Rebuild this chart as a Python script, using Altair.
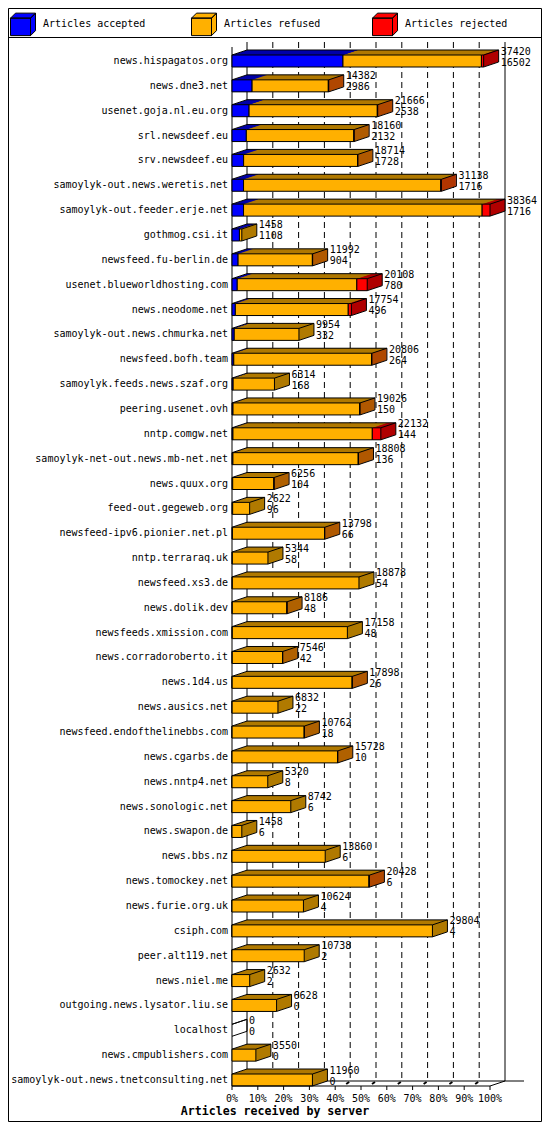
import pandas as pd
import altair as alt

servers = [
    "news.hispagatos.org", "news.dne3.net", "usenet.goja.nl.eu.org",
    "srl.newsdeef.eu", "srv.newsdeef.eu", "samoylyk-out.news.weretis.net",
    "samoylyk-out.feeder.erje.net", "gothmog.csi.it", "newsfeed.fu-berlin.de",
    "usenet.blueworldhosting.com", "news.neodome.net",
    "samoylyk-out.news.chmurka.net", "newsfeed.bofh.team",
    "samoylyk.feeds.news.szaf.org", "peering.usenet.ovh", "nntp.comgw.net",
    "samoylyk-net-out.news.mb-net.net", "news.quux.org", "feed-out.gegeweb.org",
    "newsfeed-ipv6.pionier.net.pl", "nntp.terraraq.uk", "newsfeed.xs3.de",
    "news.dolik.dev", "newsfeeds.xmission.com", "news.corradoroberto.it",
    "news.1d4.us", "news.ausics.net", "newsfeed.endofthelinebbs.com",
    "news.cgarbs.de", "news.nntp4.net", "news.sonologic.net", "news.swapon.de",
    "news.bbs.nz", "news.tomockey.net", "news.furie.org.uk", "csiph.com",
    "peer.alt119.net", "news.niel.me", "outgoing.news.lysator.liu.se",
    "localhost", "news.cmpublishers.com",
    "samoylyk-out.news.tnetconsulting.net",
]
offered = [
    37420, 14382, 21666, 18160, 18714, 31138, 38364, 1458, 11992, 20108,
    17754, 9954, 20806, 6314, 19026, 22132, 18808, 6256, 2622, 13798,
    5344, 18878, 8186, 17158, 7546, 17898, 6832, 10762, 15728, 5320,
    8742, 1458, 13860, 20428, 10624, 29804, 10738, 2632, 6628, 0,
    3550, 11960,
]
accepted = [
    16502, 2986, 2538, 2132, 1728, 1716, 1716, 1108, 904, 780,
    496, 332, 264, 168, 150, 144, 136, 104, 96, 66,
    58, 54, 48, 48, 42, 26, 22, 18, 10, 8,
    6, 6, 6, 6, 4, 4, 2, 2, 0, 0,
    0, 0,
]
# estimated from the red slices
rejected = [
    330, 60, 60, 40, 40, 100, 1170, 0, 40, 1545,
    470, 0, 60, 0, 40, 1270, 40, 30, 0, 40,
    0, 0, 30, 0, 30, 40, 0, 30, 30, 0,
    0, 0, 0, 60, 0, 0, 0, 0, 0, 0,
    0, 0,
]
segments = ["Articles accepted", "Articles refused", "Articles rejected"]
front_colors = ["#0000ff", "#ffb000", "#ff0000"]
side_colors = ["#0000a8", "#b07a00", "#b00000"]
ticks = [0, 10, 20, 30, 40, 50, 60, 70, 80, 90, 100]
tick_labels = ["0%", "10%", "20%", "30%", "40%", "50%", "60%", "70%",
               "80%", "90%", "100%"]
x_title = "Articles received by server"

FONT = "DejaVu Sans Mono"
W, H = 258, 1044
DX, DY = 15, 5
HALF = 6  # half height of a bar's front face
CUBE = ("M-1,-0.5H0.6V0.9H-1Z M-1,-0.5L-0.6,-0.9H1L0.6,-0.5Z "
        "M0.6,-0.5L1,-0.9V0.5L0.6,0.9Z")

top = max(offered)
rows = []
for i, (name, off, acc, rej) in enumerate(zip(servers, offered, accepted, rejected)):
    parts = [acc, off - acc - rej, rej]
    start = 0
    for seg, val, side in zip(segments, parts, side_colors):
        if val > 0:
            rows.append({"row": i, "server": name, "segment": seg,
                         "start": start / top * 100,
                         "end": (start + val) / top * 100, "side": side})
        start += val
bars = pd.DataFrame(rows)

totals = pd.DataFrame({
    "row": range(len(servers)), "server": servers,
    "offered": offered, "accepted": accepted,
    "zero": 0.0, "end": [o / top * 100 for o in offered],
})
tick_df = pd.DataFrame({"tick": ticks, "label": tick_labels})

xscale = alt.Scale(domain=[0, 100], nice=False, zero=False)
n = len(servers)
# first bar centre 19px below the plot top, last one 6px above the floor
step = (H - 6 - 19) / (n - 1)
yscale = alt.Scale(domain=[n - 1 + 6 / step, -19 / step], nice=False, zero=False)
y = alt.Y("row:Q", scale=yscale, axis=None)
y2 = alt.Y2("row:Q")
xt = alt.X("tick:Q", scale=xscale, axis=None)

# back walls and dashed grid
grid = alt.Chart(tick_df.iloc[1:-1]).mark_rule(
    color="black", strokeDash=[6, 4], xOffset=DX
).encode(x=xt, y=alt.value(0), y2=alt.value(H - DY))
walls = alt.Chart(tick_df.iloc[[0, -1]]).mark_rule(
    color="black", xOffset=DX
).encode(x=xt, y=alt.value(0), y2=alt.value(H - DY))
frame_df = pd.DataFrame({"lo": [ticks[0]], "hi": [ticks[-1]]})
floor_back = alt.Chart(frame_df).mark_rule(
    color="black", xOffset=DX, x2Offset=DX + 19
).encode(x=alt.X("lo:Q", scale=xscale, axis=None), x2="hi:Q",
         y=alt.value(H - DY))
floor_side = alt.Chart(frame_df).mark_rule(color="black", x2Offset=DX).encode(
    x=alt.X("hi:Q", scale=xscale, axis=None), x2="hi:Q",
    y=alt.value(H), y2=alt.value(H - DY))
front_left = alt.Chart(frame_df).mark_rule(color="black").encode(
    x=alt.X("lo:Q", scale=xscale, axis=None), y=alt.value(DY), y2=alt.value(H))
floor_marks = alt.Chart(tick_df.iloc[4:-1]).mark_rule(
    color="black", strokeWidth=2, xOffset=DX - 4, x2Offset=DX - 1
).encode(x=xt, x2="tick:Q", y=alt.value(H - 2), y2=alt.value(H - DY + 1))

# bottom axis: baseline, ticks, labels and title
baseline = alt.Chart(frame_df).mark_rule(color="black").encode(
    x=alt.X("lo:Q", scale=xscale, axis=None), x2="hi:Q", y=alt.value(H))
tick_marks = alt.Chart(tick_df).mark_rule(color="black").encode(
    x=xt, y=alt.value(H), y2=alt.value(H + 4))
tick_text = alt.Chart(tick_df).mark_text(
    font=FONT, fontSize=10, color="black", baseline="middle"
).encode(x=xt, y=alt.value(H + 13), text="label:N")
title_text = alt.Chart(pd.DataFrame({"t": [x_title]})).mark_text(
    font=FONT, fontSize=11.6, fontWeight="bold", color="black",
    baseline="middle"
).encode(x=alt.value(267 - 224), y=alt.value(H + 26), text="t:N")

# depth of each bar: darker copies pushed back step by step
depth = []
for k in range(DX, 0, -1):
    off_y = -k * DY / DX
    depth.append(alt.Chart(bars).mark_rect(
        strokeWidth=0, xOffset=k, x2Offset=k,
        yOffset=off_y - HALF, y2Offset=off_y + HALF
    ).encode(x=alt.X("start:Q", scale=xscale, axis=None), x2="end:Q",
             y=y, y2=y2, fill=alt.Fill("side:N", scale=None)))

front = alt.Chart(bars).mark_rect(
    stroke="black", strokeWidth=1, yOffset=-HALF, y2Offset=HALF
).encode(
    x=alt.X("start:Q", scale=xscale, axis=None),
    x2="end:Q", y=y, y2=y2,
    color=alt.Color("segment:N",
                    scale=alt.Scale(domain=segments, range=front_colors),
                    legend=alt.Legend(
                        title=None, orient="none", legendX=-222, legendY=-31,
                        direction="horizontal", columns=3, columnPadding=43,
                        gridAlign="all", symbolType=CUBE, symbolSize=625,
                        symbolStrokeColor="black", symbolStrokeWidth=1,
                        labelFont=FONT, labelFontSize=10, labelColor="black",
                        labelOffset=7, padding=0)),
)

# outline edges of the boxes
base = alt.Chart(totals)
xz = alt.X("zero:Q", scale=xscale, axis=None)
xe = alt.X("end:Q", scale=xscale, axis=None)
edges = [
    base.mark_rule(color="black", x2Offset=DX, yOffset=-HALF,
                   y2Offset=-HALF - DY).encode(x=xz, x2="zero:Q", y=y, y2=y2),
    base.mark_rule(color="black", x2Offset=DX, yOffset=-HALF,
                   y2Offset=-HALF - DY).encode(x=xe, x2="end:Q", y=y, y2=y2),
    base.mark_rule(color="black", x2Offset=DX, yOffset=HALF,
                   y2Offset=HALF - DY).encode(x=xe, x2="end:Q", y=y, y2=y2),
    base.mark_rule(color="black", xOffset=DX, x2Offset=DX,
                   yOffset=-HALF - DY).encode(x=xz, x2="end:Q", y=y),
    base.mark_rule(color="black", xOffset=DX, yOffset=-HALF - DY,
                   y2Offset=HALF - DY).encode(x=xe, y=y, y2=y2),
]

names = base.mark_text(align="right", baseline="middle", font=FONT,
                       fontSize=10, color="black").encode(
    x=alt.value(-4), y=y, text="server:N")
num_top = base.mark_text(align="left", baseline="middle", font=FONT,
                         fontSize=10, color="black", dx=DX + 2, dy=-9.5).encode(
    x=xe, y=y, text=alt.Text("offered:Q", format="d"))
num_bottom = base.mark_text(align="left", baseline="middle", font=FONT,
                            fontSize=10, color="black", dx=DX + 2, dy=1.5).encode(
    x=xe, y=y, text=alt.Text("accepted:Q", format="d"))

# outer frame and the line under the legend
one = pd.DataFrame({"a": [0]})
border = alt.Chart(one).mark_rect(filled=False, color="black", strokeWidth=1).encode(
    x=alt.value(-223.5), x2=alt.value(309.5),
    y=alt.value(-33.5), y2=alt.value(1079.5))
separator = alt.Chart(one).mark_rule(color="black").encode(
    x=alt.value(-223.5), x2=alt.value(309.5), y=alt.value(-4.5))

chart = alt.layer(
    grid, walls, floor_back, floor_side, front_left, floor_marks,
    *depth, front, *edges, baseline, tick_marks, tick_text, title_text,
    names, num_top, num_bottom, border, separator,
).properties(
    width=W, height=H,
    autosize=alt.AutoSizeParams(type="none"),
    padding={"left": 224, "top": 34, "right": 52, "bottom": 36},
    background="white",
).configure_view(strokeWidth=0)

chart.save("out.html", embed_options={"renderer": "svg", "actions": False})
